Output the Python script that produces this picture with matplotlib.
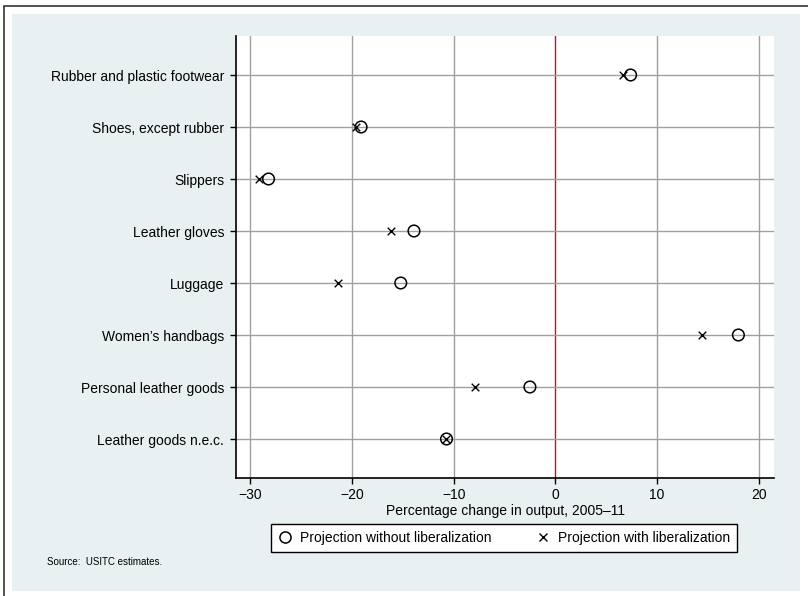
import numpy as np
import matplotlib.pyplot as plt
from matplotlib.patches import Rectangle
from matplotlib.lines import Line2D

plt.rcParams['font.family'] = ['Liberation Sans', 'DejaVu Sans']

# Categories, top to bottom
categories = ["Rubber and plastic footwear", "Shoes, except rubber", "Slippers",
              "Leather gloves", "Luggage", "Women\u2019s handbags",
              "Personal leather goods", "Leather goods n.e.c."]
without_lib = [7.4, -19.1, -28.2, -13.9, -15.2, 18.0, -2.5, -10.7]
with_lib = [6.7, -19.6, -29.1, -16.2, -21.4, 14.4, -7.9, -10.8]
x_ticks = [-30, -20, -10, 0, 10, 20]
x_label = "Percentage change in output, 2005\u201311"
source_note = "Source:  USITC estimates."

fig = plt.figure(figsize=(8.08, 5.96), dpi=100)
fig.patch.set_facecolor('white')

# outer frame and light panel (behind the axes)
fig.patches.append(Rectangle((4 / 808, -0.01), 1.2, (596 - 6) / 596 + 0.01,
                             transform=fig.transFigure, fill=False,
                             edgecolor='#333333', linewidth=1.2, zorder=-2))
fig.patches.append(Rectangle((12 / 808, (596 - 591) / 596), (800 - 12) / 808, (591 - 14) / 596,
                             transform=fig.transFigure, facecolor='#e8f0f2',
                             edgecolor='none', zorder=-1))

ax = fig.add_axes([236 / 808, (596 - 478) / 596, (774 - 236) / 808, (478 - 36) / 596])
ax.set_facecolor('white')

n = len(categories)
ypos = np.arange(n, 0, -1)

# grid
for t in x_ticks:
    if t == 0:
        ax.axvline(t, color='#c8102e', linewidth=1.0, zorder=1)
    else:
        ax.axvline(t, color='#a0a0a0', linewidth=1.0, zorder=1)
for y in ypos:
    ax.axhline(y, color='#a0a0a0', linewidth=1.0, zorder=1)

ax.scatter(without_lib, ypos, marker='o', s=70, facecolors='none',
           edgecolors='black', linewidths=1.1, zorder=3)
ax.scatter(with_lib, ypos, marker='x', s=30, color='black',
           linewidths=1.0, zorder=3)

ax.set_xlim(-31.4, 21.5)
ax.set_ylim(0.25, n + 0.75)
ax.set_xticks(x_ticks)
ax.set_xticklabels([str(t).replace('-', '\u2212') for t in x_ticks], fontsize=10)
ax.set_yticks(ypos)
ax.set_yticklabels(categories, fontsize=10)
ax.tick_params(axis='both', direction='out', length=4.5, width=1, color='black')
ax.tick_params(axis='x', pad=3)
ax.tick_params(axis='y', pad=4)
ax.set_xlabel(x_label, fontsize=10, labelpad=1)

for s in ['top', 'right']:
    ax.spines[s].set_visible(False)
for s in ['left', 'bottom']:
    ax.spines[s].set_linewidth(1.2)

handles = [Line2D([], [], marker='o', linestyle='none', markerfacecolor='none',
                  markeredgecolor='black', markersize=8, markeredgewidth=1.1),
           Line2D([], [], marker='x', linestyle='none', color='black',
                  markersize=5.5, markeredgewidth=1.0)]
leg = fig.legend(handles, ["Projection without liberalization", "Projection with liberalization"],
                 loc='center', bbox_to_anchor=(504 / 808, (596 - 538) / 596), ncol=2,
                 fontsize=10, frameon=True, fancybox=False, edgecolor='black',
                 handletextpad=0.6, columnspacing=3.2, borderpad=0.5, handlelength=1.0,
                 borderaxespad=0.0)
leg.get_frame().set_linewidth(1.0)
leg.get_frame().set_facecolor('white')
leg.get_frame().set_alpha(1.0)

fig.text(47 / 808, (596 - 562) / 596, source_note, fontsize=7, va='center', ha='left')

fig.savefig('out.png', dpi=100, facecolor=fig.get_facecolor())
